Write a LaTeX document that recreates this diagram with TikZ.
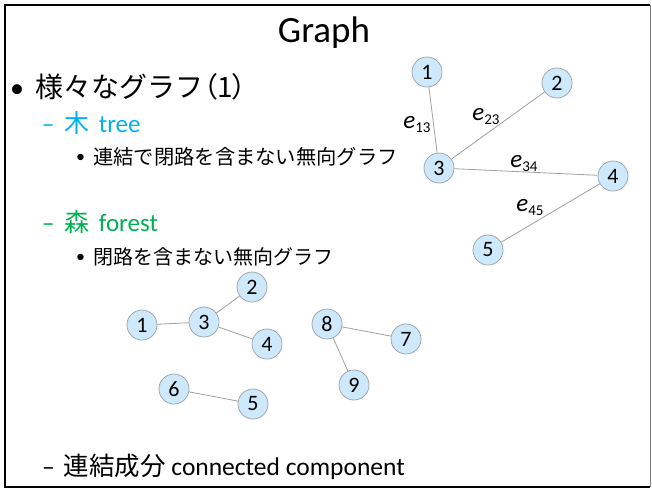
\documentclass[tikz,border=0pt]{standalone}
\usepackage{fontspec}
\setmainfont{Carlito}
\newfontfamily\cjk{Noto Sans CJK JP}
\newfontfamily\cjkp[RawFeature=+palt]{Noto Sans CJK JP}
\definecolor{treecol}{HTML}{00B0F0}
\definecolor{forestcol}{HTML}{00B050}
\definecolor{nodefill}{HTML}{CDE9FB}
\definecolor{nodeline}{HTML}{A0A8AE}
\definecolor{edgecol}{HTML}{A0A0A0}
\tikzset{
  vtx/.style={circle, draw=nodeline, line width=0.8pt, fill=nodefill, minimum size=30pt, inner sep=0pt, font=\fontsize{22}{22}\selectfont},
  edg/.style={draw=edgecol, line width=0.8pt},
  elab/.style={inner sep=0pt, font=\fontsize{25}{25}\selectfont\itshape},
  txt/.style={anchor=base west, inner sep=0pt}
}
\newcommand{\esub}[1]{\raisebox{-4pt}{\upshape\fontsize{15}{15}\selectfont #1}}
\begin{document}
\begin{tikzpicture}[x=1pt,y=-1pt]
\useasboundingbox (0,0) rectangle (652,490);
% frame
\draw[line width=2pt, black] (650,5) -- (5,5) -- (5,487) -- (650,487);
\draw[line width=0.8pt, gray] (650,5) -- (650,487);
% title
\node[anchor=base, inner sep=0pt] (title) at (324,42) {\fontsize{37}{40}\selectfont Graph};
% bullets
\node[txt] (b1) at (10,97) {\fontsize{28}{30}\selectfont •};
\node[txt] (t1) at (35,97) {\fontsize{28}{30}\selectfont\cjk 様々なグラフ\cjkp（1）};
\node[txt, text=treecol] (t2) at (42,132) {\fontsize{25}{28}\selectfont –\hspace{4pt} {\cjk 木}\hspace{4pt} tree};
\node[txt] (b3) at (76,162) {\fontsize{18}{24}\selectfont •};
\node[txt] (t3) at (93,164) {\fontsize{20.3}{24}\selectfont\cjk 連結で閉路を含まない無向グラフ};
\node[txt, text=forestcol] (t4) at (42,231) {\fontsize{25}{28}\selectfont –\hspace{4pt} {\cjk 森}\hspace{4pt} forest};
\node[txt] (b5) at (76,262) {\fontsize{18}{24}\selectfont •};
\node[txt] (t5) at (93,264) {\fontsize{20}{24}\selectfont\cjk 閉路を含まない無向グラフ};
\node[txt] (t6) at (42,475) {\fontsize{25.5}{28}\selectfont –\hspace{3pt} {\cjk 連結成分} connected component};
% tree graph
\node[vtx] (a1) at (427,72) {1};
\node[vtx] (a2) at (557,83) {2};
\node[vtx] (a3) at (439,168) {3};
\node[vtx] (a4) at (613,176) {4};
\node[vtx] (a5) at (488,250) {5};
\path[edg] (a1) -- (a3);
\path[edg] (a2) -- (a3);
\path[edg] (a3) -- (a4);
\path[edg] (a4) -- (a5);
\node[elab] (e13) at (417,124) {e\esub{13}};
\node[elab] (e23) at (486,116) {e\esub{23}};
\node[elab] (e34) at (524,163) {e\esub{34}};
\node[elab] (e45) at (530,207) {e\esub{45}};
% forest
\node[vtx] (f1) at (142,325) {1};
\node[vtx] (f3) at (204,322) {3};
\node[vtx] (f2) at (252,287) {2};
\node[vtx] (f4) at (267,344) {4};
\node[vtx] (f6) at (174,389) {6};
\node[vtx] (f5) at (253,404) {5};
\node[vtx] (f8) at (327,324) {8};
\node[vtx] (f7) at (406,339) {7};
\node[vtx] (f9) at (354,385) {9};
\path[edg] (f1) -- (f3);
\path[edg] (f3) -- (f2);
\path[edg] (f3) -- (f4);
\path[edg] (f6) -- (f5);
\path[edg] (f8) -- (f7);
\path[edg] (f8) -- (f9);
\end{tikzpicture}
\end{document}
